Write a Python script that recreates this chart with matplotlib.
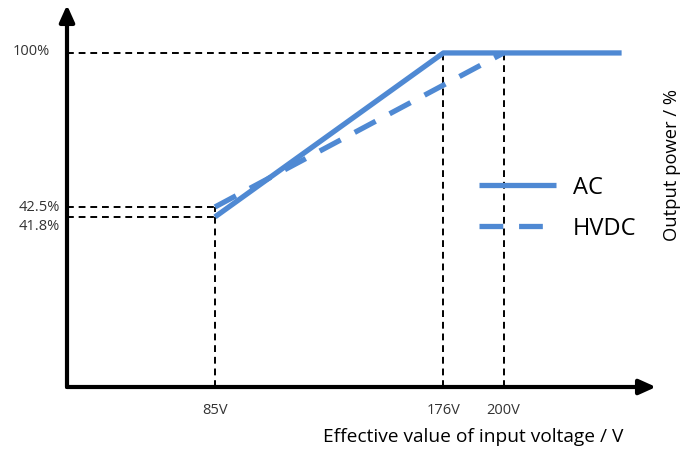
import matplotlib.pyplot as plt
import numpy as np

# datos
ac_v = [85, 176, 247]
ac_p = [41.8, 100, 100]
hvdc_v = [85, 200]
hvdc_p = [42.5, 100]
xticks = [85, 176, 200]
xtick_labels = ['85V', '176V', '200V']
yticks = [100, 42.5, 41.8]
ytick_labels = ['100%', '42.5%', '41.8%']

plt.rcParams['font.family'] = ['Open Sans', 'DejaVu Sans']
azul = '#4f89d3'

# escala del eje y: el original abre el tramo 41.8-42.5 para que se lean las dos etiquetas
k = 5.3
y_in = [-1e4, 41.8, 42.5, 1e4]
y_out = [-1e4, 41.8, 41.8 + 0.7 * k, 41.8 + 0.7 * k + (1e4 - 42.5)]
def fwd(y):
    return np.interp(y, y_in, y_out)
def inv(s):
    return np.interp(s, y_out, y_in)

fig = plt.figure(figsize=(6.97, 4.52), dpi=100)
# ejes en pixeles: x 67..656, y 6..388
ax = fig.add_axes([67/697, (452-388)/452, (656-67)/697, (388-6)/452])
ax.set_yscale('function', functions=(fwd, inv))
x0, y0 = 26.04, -21.7
ax.set_xlim(x0, 260.7)
ax.set_ylim(y0, 117.9)
for s in ax.spines.values():
    s.set_visible(False)
ax.set_xticks([])
ax.set_yticks([])
ax.minorticks_off()

# flechas de los ejes
flecha = dict(arrowstyle='-|>,head_length=1.0,head_width=0.45', color='black', lw=3, shrinkA=0, shrinkB=0)
ax.annotate('', xy=(1.0, 0), xytext=(0, 0), xycoords='axes fraction', arrowprops=flecha)
ax.annotate('', xy=(0, 1.0), xytext=(0, 0), xycoords='axes fraction', arrowprops=flecha)

# lineas de referencia punteadas
ref = dict(color='black', ls=(0, (3.5, 2.5)), lw=1.4)
ax.plot([x0, 176], [100, 100], **ref)
ax.plot([x0, 85], [hvdc_p[0], hvdc_p[0]], **ref)
ax.plot([x0, 85], [ac_p[0], ac_p[0]], **ref)
ax.plot([85, 85], [y0, hvdc_p[0]], **ref)
ax.plot([176, 176], [y0, 100], **ref)
ax.plot([200, 200], [y0, 100], **ref)

# curvas
ax.plot(ac_v, ac_p, color=azul, lw=3.8, solid_capstyle='butt', label='AC')
ax.plot(hvdc_v, hvdc_p, color=azul, lw=3.8, ls=(0, (4.5, 3)), dash_capstyle='butt', label='HVDC')

# etiquetas de ticks
for x, t in zip(xticks, xtick_labels):
    ax.annotate(t, xy=(x, 0), xycoords=('data', 'axes fraction'), xytext=(0, -16),
                textcoords='offset points', ha='center', va='center', fontsize=10.5, color='#333333')
offs = [(-12, 2), (-5, 0), (-5, -6)]
for y, t, o in zip(yticks, ytick_labels, offs):
    ax.annotate(t, xy=(0, y), xycoords=('axes fraction', 'data'), xytext=o,
                textcoords='offset points', ha='right', va='center', fontsize=10.5, color='#333333')

fig.text(473/697, 1 - 437/452, 'Effective value of input voltage / V', ha='center', va='center', fontsize=13.8)
fig.text(672/697, 1 - 165/452, 'Output power / %', ha='center', va='center', rotation=90, fontsize=13.2)

ax.legend(loc='center left', bbox_to_anchor=(479/697, 1 - 209/452), bbox_transform=fig.transFigure,
          frameon=False, fontsize=17, handlelength=3.25, labelspacing=0.72, handletextpad=0.72,
          borderpad=0, borderaxespad=0)

fig.savefig('out.png', dpi=100)
